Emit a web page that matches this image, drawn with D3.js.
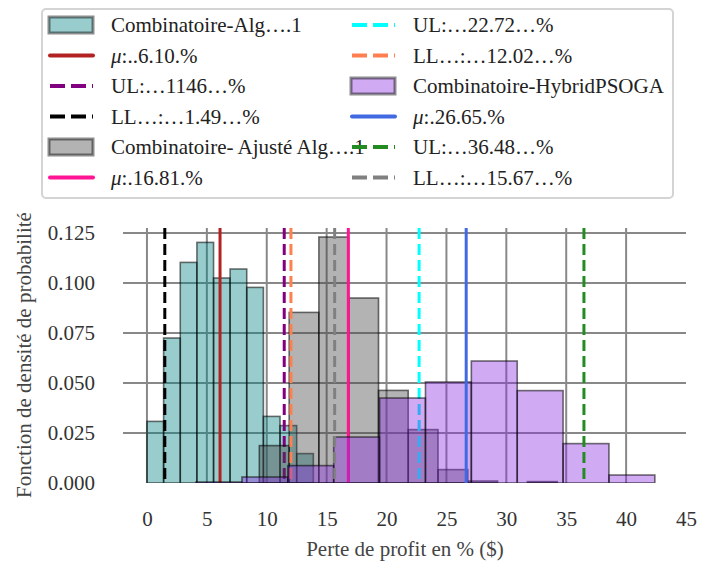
<!DOCTYPE html>
<html>
<head>
<meta charset="utf-8">
<script src="https://cdn.jsdelivr.net/npm/d3@7"></script>
<style>
  body { margin: 0; background: #fff; }
  text { font-family: "Liberation Serif", "Times New Roman", serif; }
</style>
</head>
<body>
<svg width="702" height="564"></svg>
<script>
// ticks
const xTicks = [0, 5, 10, 15, 20, 25, 30, 35, 40, 45];
const yTicks = [0, 0.025, 0.05, 0.075, 0.1, 0.125];

// histogram bins (edges) and densities
const algEdges = [0, 1.39, 2.78, 4.17, 5.56, 6.94, 8.33, 9.72, 11.11, 12.50, 13.89];
const algDensity = [0.0308, 0.0725, 0.1103, 0.1203, 0.1025, 0.1070, 0.0978, 0.0333, 0.0287, 0.0147];

const ajusteEdges = [9.38, 11.87, 14.35, 16.84, 19.33, 21.81, 24.30, 26.79, 29.27, 31.76, 34.25];
const ajusteDensity = [0.0187, 0.0853, 0.1230, 0.0925, 0.0463, 0.0267, 0.0067, 0.0010, 0.0000, 0.0007];

const hybridEdges = [4.10, 7.93, 11.76, 15.59, 19.42, 23.25, 27.08, 30.91, 34.74, 38.57, 42.40];
const hybridDensity = [0.0005, 0.0030, 0.0087, 0.0230, 0.0425, 0.0505, 0.0610, 0.0462, 0.0197, 0.0040];

const seriesNames = ["Combinatoire-Alg\u2026.1", "Combinatoire- Ajust\u00e9 Alg\u2026.1", "Combinatoire-HybridPSOGA"];
const seriesColors = ["teal", "#404040", "blueviolet"];

// mean / upper / lower limits
const meanValues = [6.10, 16.81, 26.65];
const upperValues = [11.46, 22.72, 36.48];
const lowerValues = [1.49, 12.02, 15.67];
const meanLabels = [":..6.10.%", ":.16.81.%", ":.26.65.%"];
const upperLabels = ["UL:\u20261146\u2026%", "UL:\u202622.72\u2026%", "UL:\u202636.48\u2026%"];
const lowerLabels = ["LL\u2026:\u20261.49\u2026%", "LL\u2026:\u202612.02\u2026%", "LL\u2026:\u202615.67\u2026%"];
const meanColors = ["firebrick", "deeppink", "royalblue"];
const upperColors = ["purple", "cyan", "forestgreen"];
const lowerColors = ["black", "coral", "gray"];

const svg = d3.select("svg");
const margin = {top: 228, right: 16, bottom: 81, left: 123};
const width = 702, height = 564;
const serif = "'Liberation Serif', 'Times New Roman', serif";

const x = d3.scaleLinear().domain([-2, 45]).range([margin.left, width - margin.right]);
const y = d3.scaleLinear().domain([0, 0.1275]).range([height - margin.bottom, margin.top]);

svg.append("defs").append("clipPath").attr("id", "plot")
  .append("rect")
    .attr("x", margin.left).attr("y", margin.top)
    .attr("width", width - margin.right - margin.left)
    .attr("height", height - margin.bottom - margin.top);

// grid
const grid = svg.append("g").attr("stroke", "#888").attr("stroke-width", 2);
grid.selectAll(".vg")
  .data(xTicks.filter(d => x(d) < width - margin.right - 1))
  .enter().append("line")
    .attr("x1", d => x(d)).attr("x2", d => x(d))
    .attr("y1", margin.top).attr("y2", height - margin.bottom);
grid.selectAll(".hg")
  .data(yTicks.filter(d => d > 0))
  .enter().append("line")
    .attr("x1", margin.left).attr("x2", width - margin.right)
    .attr("y1", d => y(d)).attr("y2", d => y(d));

// axes (labels only)
svg.append("g")
    .attr("transform", `translate(0,${height - margin.bottom})`)
    .call(d3.axisBottom(x).tickValues(xTicks).tickSize(0).tickPadding(28).tickFormat(d3.format("d")))
    .attr("font-family", serif).attr("font-size", 21)
    .call(g => g.select(".domain").remove())
    .call(g => g.selectAll("text").attr("fill", "#333"));

svg.append("g")
    .attr("transform", `translate(${margin.left},0)`)
    .call(d3.axisLeft(y).tickValues(yTicks).tickSize(0).tickPadding(28).tickFormat(d3.format(".3f")))
    .attr("font-family", serif).attr("font-size", 21)
    .call(g => g.select(".domain").remove())
    .call(g => g.selectAll("text").attr("fill", "#333"));

svg.append("text")
    .attr("x", 405).attr("y", 556)
    .attr("text-anchor", "middle")
    .attr("font-size", 21).attr("fill", "#444")
    .text("Perte de profit en % ($)");

svg.append("text")
    .attr("transform", "translate(31,355) rotate(-90)")
    .attr("text-anchor", "middle")
    .attr("font-size", 21).attr("fill", "#444")
    .text("Fonction de densit\u00e9 de probabilit\u00e9");

// histograms + limit lines
const plot = svg.append("g").attr("clip-path", "url(#plot)");
const hists = [
  {edges: algEdges, dens: algDensity},
  {edges: ajusteEdges, dens: ajusteDensity},
  {edges: hybridEdges, dens: hybridDensity}
];

function vline(v, color, dashed) {
  plot.append("line")
    .attr("x1", x(v)).attr("x2", x(v))
    .attr("y1", margin.top).attr("y2", height - margin.bottom)
    .attr("stroke", color)
    .attr("stroke-width", 3)
    .attr("stroke-dasharray", dashed ? "11,5" : null);
}

hists.forEach((h, i) => {
  const bins = h.dens.map((d, j) => ({x0: h.edges[j], x1: h.edges[j + 1], d: d}));
  plot.append("g").selectAll("rect")
    .data(bins.filter(b => b.d > 0))
    .enter().append("rect")
      .attr("x", b => x(b.x0))
      .attr("width", b => x(b.x1) - x(b.x0))
      .attr("y", b => y(b.d))
      .attr("height", b => y(0) - y(b.d))
      .attr("fill", seriesColors[i])
      .attr("fill-opacity", 0.4)
      .attr("stroke", "#000")
      .attr("stroke-opacity", 0.55)
      .attr("stroke-width", 1.6);
  vline(meanValues[i], meanColors[i], false);
  vline(upperValues[i], upperColors[i], true);
  vline(lowerValues[i], lowerColors[i], true);
});

// legend
const legend = svg.append("g");
legend.append("rect")
    .attr("x", 42).attr("y", 9).attr("width", 631).attr("height", 189)
    .attr("rx", 4)
    .attr("fill", "#fff").attr("stroke", "#d4d4d4").attr("stroke-width", 2);

const entries = [];
seriesNames.forEach((name, i) => {
  entries.push({type: "patch", label: name, color: seriesColors[i]});
  entries.push({type: "line", label: meanLabels[i], color: meanColors[i], mu: true});
  entries.push({type: "dash", label: upperLabels[i], color: upperColors[i]});
  entries.push({type: "dash", label: lowerLabels[i], color: lowerColors[i]});
});

const colX = [48, 350];
const rowY = d => 25 + d * 30.5;

entries.forEach((e, k) => {
  const cx = colX[Math.floor(k / 6)];
  const cy = rowY(k % 6);
  if (e.type === "patch") {
    legend.append("rect")
      .attr("x", cx + 1).attr("y", cy - 8).attr("width", 44).attr("height", 16)
      .attr("fill", e.color).attr("fill-opacity", 0.4)
      .attr("stroke", "#000").attr("stroke-opacity", 0.45).attr("stroke-width", 3);
  } else {
    legend.append("line")
      .attr("x1", cx + 2).attr("x2", cx + 45)
      .attr("y1", cy).attr("y2", cy)
      .attr("stroke", e.color).attr("stroke-width", 4)
      .attr("stroke-linecap", e.type === "dash" ? "butt" : "round")
      .attr("stroke-dasharray", e.type === "dash" ? "15,6" : null);
  }
  const t = legend.append("text")
    .attr("x", cx + 63).attr("y", cy + 7)
    .attr("font-size", 21).attr("fill", "#222");
  if (e.mu) {
    t.append("tspan").attr("font-style", "italic").text("\u03bc");
    t.append("tspan").text(e.label);
  } else {
    t.text(e.label);
  }
});
</script>
</body>
</html>
